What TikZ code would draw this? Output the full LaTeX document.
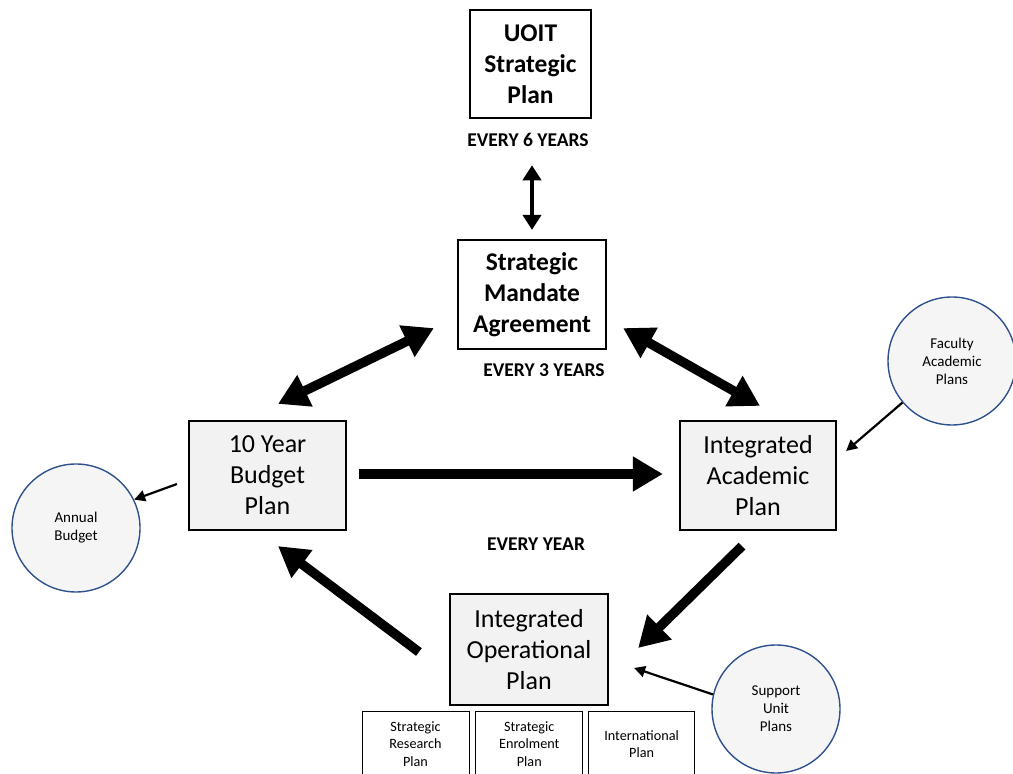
\documentclass[tikz,border=0pt]{standalone}
\usepackage{fontspec}
\setmainfont{Carlito}
\usetikzlibrary{positioning,arrows.meta}
\definecolor{CircleBlue}{HTML}{2F528F}

\begin{document}
\begin{tikzpicture}[x=1pt, y=1pt,
    planbox/.style={draw, line width=2.2pt, align=center, inner sep=0pt},
    bigplan/.style={planbox, fill=black!5, font=\fontsize{26}{31}\selectfont},
    topplan/.style={planbox, fill=white, font=\bfseries\fontsize{25.5}{31}\selectfont},
    subplan/.style={draw, line width=0.8pt, align=center, inner sep=0pt, minimum width=106pt, minimum height=66pt, font=\fontsize{14.2}{17.5}\selectfont},
    sideplan/.style={circle, draw=CircleBlue, line width=1.4pt, fill=black!4, minimum size=128pt, inner sep=0pt, align=center, font=\fontsize{15}{18}\selectfont},
    cycle/.style={font=\bfseries\fontsize{19.5}{22}\selectfont},
    bigarrow/.style={line width=9.5pt, -{Triangle[length=30pt,width=33pt]}},
    twoway/.style={line width=9.5pt, {Triangle[length=30pt,width=33pt]}-{Triangle[length=30pt,width=33pt]}},
    smallarrow/.style={line width=2.2pt, -{Triangle[length=11pt,width=11pt]}}]
    \useasboundingbox (0,0) rectangle (1013,774);
    \clip (0,0) rectangle (1013,774);

    % plans
    \node[topplan, minimum width=121pt, minimum height=108pt] (uoit) at (530.5,710) {UOIT\\Strategic\\Plan};
    \node[cycle] (six) at (528,634) {EVERY 6 YEARS};
    \node[topplan, minimum width=148pt, minimum height=109pt] (mandate) at (532,479.5) {Strategic\\Mandate\\Agreement};
    \node[cycle] (three) at (544,404) {EVERY 3 YEARS};
    \node[bigplan, minimum width=157pt, minimum height=109pt] (budget) at (267.5,298.5) {10 Year\\Budget\\Plan};
    \node[bigplan, minimum width=156pt, minimum height=109pt] (academic) at (758,298.5) {Integrated\\Academic\\Plan};
    \node[cycle] (yearly) at (536,230) {EVERY YEAR};
    \node[bigplan, minimum width=158pt, minimum height=111pt] (operational) at (529,124.5) {Integrated\\Operational\\Plan};

    % unit plans under the operational plan
    \node[subplan, minimum width=107pt] (research) at (415.5,30) {Strategic\\Research\\Plan};
    \node[subplan, minimum width=107pt, right=6pt of research] (enrolment) {Strategic\\Enrolment\\Plan};
    \node[subplan, right=5pt of enrolment] (international) {International\\Plan};

    \node[sideplan] (annual) at (76,246) {Annual\\Budget};
    \node[sideplan] (faculty) at (952,413) {Faculty\\Academic\\Plans};
    \node[sideplan] (support) at (776,65) {Support\\Unit\\Plans};

    % arrows
    \draw[line width=4.5pt, shorten <=15pt, shorten >=9pt, {Triangle[length=15pt,width=18pt]}-{Triangle[length=15pt,width=18pt]}]
        (six.south -| mandate.north) -- (mandate.north);
    \draw[twoway] ([xshift=-23pt,yshift=22pt]mandate.south west) -- ([xshift=10.5pt,yshift=16pt]budget.north);
    \draw[twoway] ([xshift=16pt,yshift=22pt]mandate.south east) -- ([xshift=2pt,yshift=14pt]academic.north);
    \draw[bigarrow] ([xshift=12pt,yshift=1.5pt]budget.east) -- ([xshift=-16pt,yshift=1.5pt]academic.west);
    \draw[bigarrow] ([xshift=-16pt,yshift=-15pt]academic.south) -- ([xshift=29pt,yshift=1.5pt]operational.east);
    \draw[bigarrow] ([xshift=-30pt,yshift=-2.5pt]operational.west) -- ([xshift=10.5pt,yshift=-15pt]budget.south);

    \draw[smallarrow] ([xshift=-11pt,yshift=-8.5pt]budget.west) -- (annual.26);
    \draw[smallarrow] (faculty.220) -- ([xshift=9pt,yshift=24.5pt]academic.east);
    \draw[smallarrow] (support.167) -- ([xshift=25pt,yshift=-18.5pt]operational.east);
\end{tikzpicture}
\end{document}
